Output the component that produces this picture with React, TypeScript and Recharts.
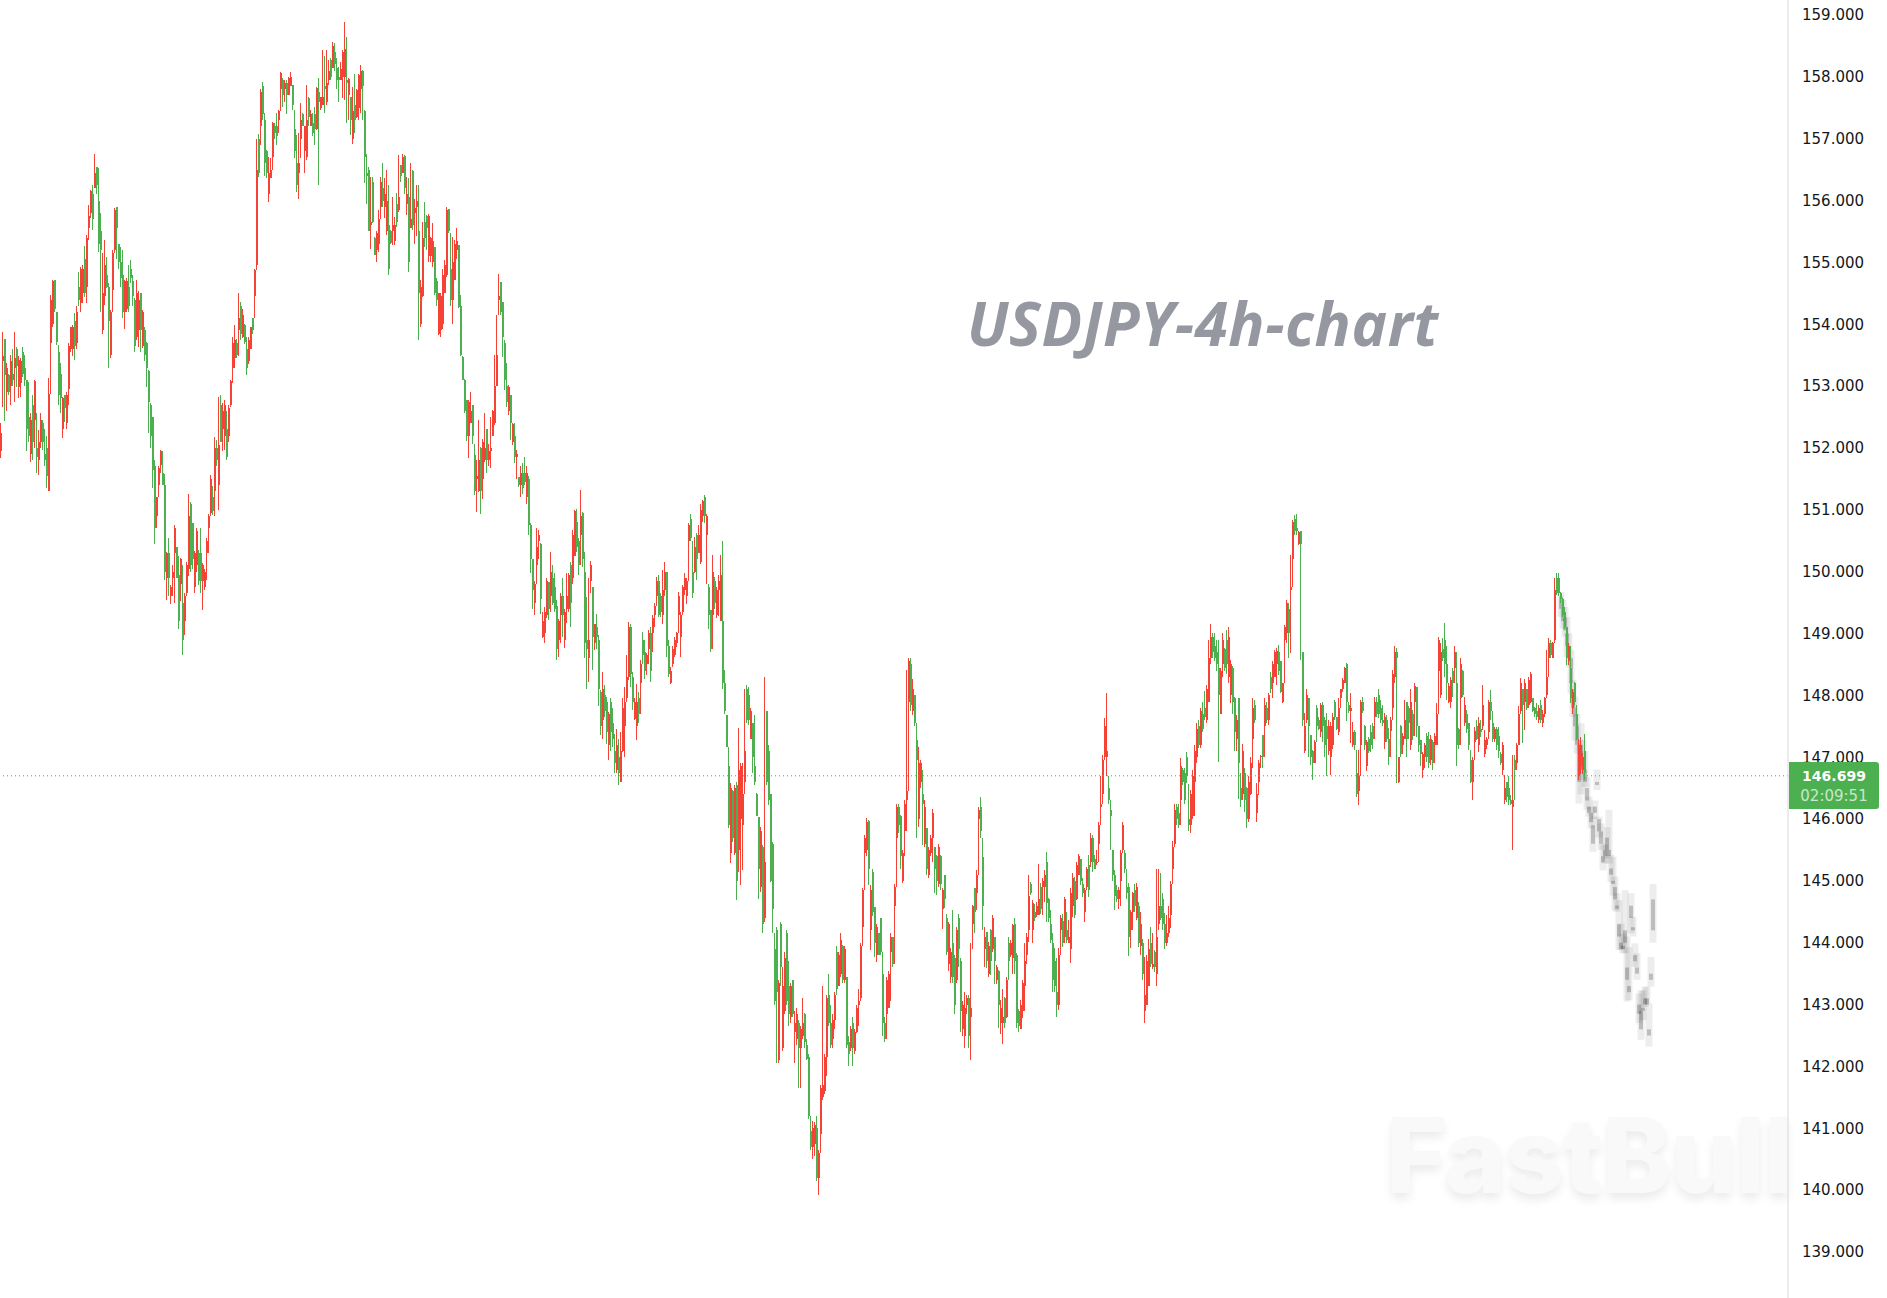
import { Bar, ComposedChart, ReferenceLine, XAxis, YAxis } from "recharts";

// every candle is [open, high, low, close]; close above open is red on this chart
type Candle = [number, number, number, number];

const priceTicks = [139, 140, 141, 142, 143, 144, 145, 146, 147, 148, 149, 150, 151, 152, 153, 154, 155, 156, 157, 158, 159];
const lastPrice = 146.699;
const countdown = "02:09:51";
const chartTitle = "USDJPY-4h-chart";
const watermark = "FastBull";

const legFirstPeak: Candle[] = [
  [151.95,152.4,151.83,152.24],[153.4,153.88,152.67,153.48],[153.76,153.76,152.43,153.18],[152.9,153.37,152.6,153.3],[153.18,153.2,152.85,152.9],[153.0,153.5,152.7,153.4],[153.2,153.6,153.0,153.1],[153.3,153.88,152.75,153.45],[153.6,153.63,152.99,153.32],[152.98,153.48,152.8,153.42],[153.05,153.45,152.83,153.4],
  [153.55,153.64,153.15,153.2],[153.3,153.5,153.0,153.1],[153.1,153.1,151.95,152.3],[152.5,153.07,152.1,152.2],[151.9,152.56,151.78,152.45],[152.7,152.86,151.8,152.1],[152.45,153.1,152.0,153.08],[152.0,152.56,151.59,151.85],[151.8,152.29,151.57,152.1],[152.1,152.56,152.0,152.45],[152.4,152.45,151.97,152.1],
  [151.9,152.3,151.7,151.8],[152.0,152.2,151.35,151.55],[151.3,153.13,151.3,152.88],[153.7,154.48,152.88,154.4],[154.0,154.72,153.96,154.7],[154.72,154.72,154.2,154.25],[154.2,154.2,153.66,153.72],[153.55,153.66,152.7,152.85],[153.2,153.38,152.56,152.8],[152.3,152.82,152.16,152.8],[152.85,152.85,152.42,152.65],[152.4,152.9,152.3,152.85],
  [152.95,153.7,152.7,153.65],[153.6,153.96,153.55,153.95],[153.6,153.98,153.48,153.95],[154.05,154.18,153.42,153.65],[153.7,154.3,153.6,154.2],[154.6,154.85,154.3,154.4],[154.35,154.93,154.2,154.9],[154.5,154.96,154.34,154.9],[155.05,155.26,154.44,154.5],[154.6,155.45,154.34,155.4],[155.55,155.93,155.36,155.75],
  [155.8,156.17,155.72,156.15],[156.1,156.25,155.53,155.7],[156.2,156.76,156.2,156.44],[156.55,156.55,156.1,156.25],[156.0,156.52,155.17,155.3],[155.5,155.8,154.2,155.2],[153.9,155.15,153.85,154.5],[154.45,155.36,154.31,154.95],[154.8,155.09,154.58,154.6],[154.6,154.66,153.3,154.05],
  [153.5,154.23,153.45,154.2],[154.55,155.2,154.2,155.15],[155.2,155.88,155.15,155.85],[155.9,155.9,155.05,155.55],[155.3,155.3,154.9,155.0],[155.0,155.25,154.6,154.75],[154.8,155.2,154.1,154.2],[154.2,154.72,153.93,154.7],[154.25,154.74,154.2,154.7],[154.6,154.96,154.2,154.3],
  [154.9,155.04,154.66,154.75],[154.7,154.8,154.3,154.45],[154.4,154.42,153.55,153.65],[153.8,154.72,153.75,154.5],[153.9,154.53,153.64,154.4],[154.5,154.5,153.55,153.9],[153.65,154.23,153.62,154.2],[153.9,153.95,153.4,153.5],[153.7,153.72,152.99,153.3],[153.25,153.26,152.24,152.75],
  [152.7,152.72,152.0,152.2],[152.5,152.5,151.35,151.65],[151.7,151.8,150.45,150.7],[150.9,151.2,150.7,151.2],[151.4,151.7,151.2,151.68],[151.72,151.97,151.6,151.95],[151.6,151.95,151.4,151.4],[151.4,151.58,149.87,150.0],[149.9,150.32,149.54,150.3],[150.3,150.54,149.6,149.9],
  [149.6,149.78,149.48,149.75],[149.9,150.1,149.6,150.0],[150.3,150.75,149.5,150.7],[150.4,150.4,149.9,149.9],[149.95,150.25,149.08,149.2],[149.8,150.22,149.52,150.2],[149.5,150.1,148.65,148.9],[149.2,149.65,148.98,149.6],[149.65,150.15,149.6,150.1],[150.05,151.25,149.93,150.9],
  [151.1,151.12,150.0,150.1],[150.78,150.78,150.05,150.2],[149.75,150.33,149.65,150.3],[150.1,150.7,150.0,150.65],[150.3,150.35,149.78,149.85],[150.3,150.7,149.65,149.85],[149.85,150.14,149.38,150.1],[149.75,150.05,149.7,150.0],[150.3,150.54,149.87,150.5],[150.7,150.94,150.3,150.9],
  [150.95,151.56,150.9,151.5],[151.2,151.38,150.92,150.98],[151.3,152.18,150.9,152.0],[152.0,152.13,151.7,151.8],[151.4,152.83,151.0,152.05],[152.7,152.85,152.1,152.1],[152.3,152.72,151.95,152.6],[152.2,152.78,151.96,152.7],[152.3,152.6,151.8,151.85],[152.2,152.7,152.1,152.65],
  [152.7,153.1,152.67,153.08],[153.3,153.8,153.05,153.7],[153.45,153.99,153.3,153.75],[153.7,153.76,153.45,153.5],[153.9,154.5,153.48,154.1],[154.3,154.36,153.75,153.85],[153.8,154.25,153.77,154.15],[153.98,154.0,153.68,153.72],[153.6,153.8,153.18,153.3],[153.4,153.8,153.35,153.75],
  [153.6,153.96,153.6,153.95],[154.1,154.1,153.85,153.9],[154.46,154.9,154.1,154.88],[154.96,157.0,154.88,156.5],[157.0,157.08,156.38,156.45],[157.2,157.81,156.9,157.75],[157.85,157.92,157.3,157.4],
];

const legTopRange: Candle[] = [
  [157.3,157.41,156.4,156.6],[156.8,156.82,156.36,156.45],[156.1,156.71,155.98,156.45],[156.36,156.68,156.36,156.5],[156.7,157.27,156.5,157.25],[157.2,157.25,157.0,157.1],[157.2,157.41,156.9,157.05],[157.3,157.46,157.1,157.44],
  [157.8,158.08,157.44,158.07],[157.95,157.98,157.52,157.7],[157.8,157.95,157.6,157.9],[157.9,157.95,157.4,157.7],[157.7,158.0,157.7,157.98],[157.85,158.08,157.85,158.0],[157.87,157.87,157.46,157.55],[157.15,157.46,156.68,156.8],[156.6,157.06,156.14,156.25],[156.45,157.09,156.03,156.6],
  [157.0,157.57,156.68,157.3],[157.4,157.41,157.2,157.2],[156.8,157.2,156.44,157.2],[156.7,157.87,156.65,157.3],[157.65,157.68,157.2,157.35],[157.2,157.46,157.2,157.4],[157.25,157.41,157.05,157.1],[157.4,157.52,156.9,157.15],[157.15,157.84,157.14,157.82],[157.75,157.98,156.25,157.6],
  [157.5,157.68,157.46,157.67],[157.55,158.43,157.55,157.68],[157.85,158.33,157.41,157.8],[157.6,158.43,157.55,157.9],[157.95,158.27,157.87,158.1],[158.28,158.3,157.95,158.0],[158.15,158.57,158.15,158.5],[158.4,158.54,158.1,158.2],[158.15,158.3,157.8,157.95],[158.0,158.16,157.6,157.95],
  [157.95,158.24,157.95,158.12],[158.0,158.43,157.65,158.4],[158.0,158.89,157.63,158.45],[157.95,158.65,157.25,157.9],[157.7,157.98,157.3,157.96],[157.68,157.68,157.06,157.3],[157.0,157.84,156.92,157.45],[157.55,158.05,157.1,157.3],[157.35,157.8,157.33,157.78],[157.5,158.05,157.3,158.03],
  [157.8,158.19,157.41,158.1],[158.1,158.11,157.3,157.85],[157.45,157.46,156.28,156.7],[156.45,156.76,155.95,156.4],[156.5,156.55,155.5,155.5],[155.6,156.38,155.22,155.65],[156.3,156.38,155.63,155.66],[155.4,155.41,155.12,155.12],[155.2,155.5,155.0,155.48],
  [155.3,155.85,155.17,155.7],[155.9,156.38,155.7,156.3],[156.2,156.6,155.9,156.0],[155.9,156.36,155.72,156.1],[155.5,156.49,155.45,156.0],[155.6,156.25,154.8,154.9],[155.5,155.52,155.3,155.32],[155.5,156.06,155.28,155.6],[155.35,155.74,155.28,155.6],
  [155.95,156.12,155.58,155.65],[155.85,156.73,155.82,156.05],[156.57,156.57,156.3,156.4],[156.45,156.76,156.45,156.7],[156.72,156.73,156.1,156.2],[155.95,156.38,155.76,156.1],[156.05,156.36,154.85,155.0],[155.55,156.6,155.55,155.7],[156.48,156.49,155.52,155.6],
  [155.8,156.03,155.3,155.88],[155.9,156.25,155.42,156.0],[155.5,156.25,153.75,154.5],[154.0,154.71,153.96,154.6],[154.45,155.66,154.44,155.4],[155.65,155.98,155.25,155.4],[155.75,155.76,155.2,155.55],[155.1,155.79,155.0,155.75],[155.1,155.41,155.0,155.4],
  [155.0,155.63,154.93,155.35],[155.25,155.25,154.47,154.5],[154.7,154.74,154.3,154.4],[153.85,154.5,153.82,154.5],[153.9,154.5,153.8,154.45],[154.0,154.9,153.93,154.8],[154.5,155.04,154.5,154.95],[154.8,155.9,154.77,155.85],[155.87,155.87,155.47,155.5],
  [154.9,155.47,154.3,154.4],[154.4,155.41,154.01,155.0],[154.72,155.36,154.71,155.3],[155.2,155.55,155.06,155.35],[155.28,155.28,154.26,154.28],[154.3,154.47,153.48,153.5],[153.47,153.48,153.1,153.1],[153.1,153.12,152.56,152.6],[152.78,152.78,152.12,152.2],[152.2,152.78,151.83,152.75],
  [152.4,152.91,152.4,152.6],[152.69,152.69,152.07,152.2],[151.88,152.07,151.24,151.3],[151.5,151.8,150.97,151.55],[151.3,152.45,151.28,151.8],[152.0,152.02,150.94,151.3],[151.5,152.15,151.18,152.1],[151.8,152.56,151.78,152.0],[152.3,152.31,151.59,151.8],[151.8,152.07,151.7,151.95],
  [151.95,152.5,151.67,152.0],[152.2,152.61,152.2,152.6],[152.4,153.5,152.37,153.0],[153.0,154.15,153.0,153.5],[154.4,154.82,154.15,154.45],[154.69,154.69,154.15,154.2],[154.36,154.36,153.47,153.8],[153.7,153.74,152.94,153.1],[153.0,153.37,152.67,152.75],[152.6,153.02,152.53,152.98],
  [152.85,152.85,152.13,152.4],[152.1,152.4,152.05,152.38],[152.2,152.4,151.75,151.85],[151.85,151.96,151.5,151.9],[151.53,151.53,151.37,151.4],
];

const legAutumnSlide: Candle[] = [
  [151.4,151.7,151.2,151.6],[151.6,151.75,151.25,151.35],[151.6,151.85,151.4,151.45],[151.2,151.7,151.1,151.6],[151.5,151.55,150.6,150.75],[150.75,150.78,149.98,150.2],[150.2,150.2,149.4,149.7],[149.5,149.85,149.3,149.8],[150.1,150.7,149.8,150.4],
  [150.5,150.67,150.2,150.6],[150.45,150.46,149.32,149.55],[148.95,149.35,148.92,149.2],[149.0,149.43,148.84,149.35],[149.3,149.89,149.25,149.85],[149.84,149.84,149.22,149.4],[149.6,150.32,149.35,150.0],[149.9,150.1,149.46,149.5],[149.75,149.97,149.35,149.4],
  [149.45,149.54,148.57,148.75],[148.9,149.24,148.62,149.2],[149.3,149.65,148.84,149.6],[149.6,149.89,148.95,149.3],[148.9,149.4,148.76,149.35],[149.4,149.97,149.17,149.6],[149.4,149.97,149.35,149.95],[150.1,150.16,149.1,149.5],[149.9,150.67,149.8,150.6],[150.25,150.99,150.25,150.98],
  [150.8,151.02,150.32,150.4],[150.5,150.54,149.95,150.1],[150.6,151.32,150.1,150.9],[150.95,150.97,150.08,150.2],[150.0,150.32,148.6,148.85],[148.9,149.59,148.1,148.75],[148.6,149.89,148.22,148.9],[149.85,150.18,149.65,150.1],[149.75,149.75,148.41,148.95],[148.85,149.16,148.73,149.15],
  [149.1,149.32,148.75,148.95],[148.9,148.98,147.82,148.1],[148.05,148.08,147.36,147.5],[147.6,148.38,147.3,148.1],[148.0,148.16,147.65,147.75],[147.9,147.98,147.22,147.4],[147.2,147.73,146.95,147.7],[147.9,147.95,147.1,147.4],[147.55,147.8,147.17,147.3],[147.1,147.38,146.74,146.9],
  [146.8,147.46,146.74,147.2],[147.0,147.3,146.55,146.75],[146.6,147.4,146.6,147.1],[147.1,147.95,147.08,147.8],[147.5,148.14,147.0,147.9],[147.95,148.65,147.9,148.3],[148.3,149.19,148.25,149.1],[149.1,149.16,148.14,148.35],[148.3,148.38,147.76,147.9],
  [147.62,147.95,147.6,147.9],[147.5,148.19,147.28,147.9],[147.95,148.06,147.55,147.7],[148.2,148.57,147.7,148.5],[148.9,149.03,148.5,148.65],[148.7,148.9,148.27,148.4],[148.5,148.68,148.33,148.65],[148.75,149.05,148.5,149.0],[149.0,149.1,148.22,148.4],
  [149.0,149.3,148.7,149.25],[149.3,149.49,149.1,149.45],[149.6,149.92,149.45,149.85],[149.85,149.94,149.27,149.3],[149.6,149.65,149.27,149.35],[149.3,150.02,149.16,149.7],[149.7,150.16,149.6,150.0],[150.0,150.0,148.62,148.8],[148.8,148.9,148.3,148.35],[148.2,148.46,148.19,148.4],
  [148.5,148.79,148.46,148.75],[148.65,148.95,148.62,148.9],[148.85,149.03,148.78,149.0],[149.3,149.67,149.0,149.6],[148.95,149.35,148.62,149.3],[149.35,149.78,149.3,149.75],[149.7,149.97,149.62,149.9],[149.6,149.89,149.48,149.85],[150.5,150.78,149.85,150.75],[150.85,150.94,150.5,150.55],
  [150.0,150.5,149.57,149.65],[150.0,150.56,149.97,150.4],[150.6,150.62,149.86,150.2],[150.3,150.75,150.3,150.6],[150.15,151.1,150.13,151.0],[150.9,151.16,150.8,151.15],[151.2,151.24,150.78,150.9],[150.6,150.94,149.8,150.9],[149.75,149.8,149.08,149.3],[149.38,149.38,148.7,148.75],
  [149.3,150.27,148.75,150.0],[149.85,149.92,149.4,149.5],[149.3,149.75,149.25,149.7],[149.7,149.94,149.28,149.85],[149.2,150.27,149.2,149.95],
];

const legYearLow: Candle[] = [
  [149.2,150.49,148.1,148.2],[148.2,148.41,147.7,147.75],[147.68,147.68,147.17,147.17],[146.85,147.17,145.85,145.9],[145.45,146.58,145.29,146.5],[146.45,146.47,145.63,145.7],[145.45,146.55,145.42,146.5],[146.55,146.6,144.69,145.0],[145.5,147.47,145.15,146.8],[146.0,146.9,144.93,146.85],
  [145.9,146.9,145.18,146.4],[146.6,148.11,146.4,147.1],[148.1,148.17,147.55,147.6],[148.0,148.14,147.52,147.6],[147.3,147.8,147.3,147.75],[147.55,147.55,146.74,147.0],[146.85,147.68,146.55,146.6],[146.4,146.42,146.05,146.05],[146.03,146.03,144.7,145.2],[144.9,145.87,144.82,145.8],
  [145.55,145.58,144.15,144.3],[144.4,148.3,144.34,145.3],[147.74,147.74,146.55,146.6],[147.1,147.2,146.22,146.3],[146.4,146.4,144.98,145.0],[145.6,145.63,144.15,144.55],[143.9,144.15,143.0,143.05],[144.2,144.26,142.05,143.2],[142.1,143.4,142.05,143.35],[144.3,144.34,143.3,143.6],
  [142.3,143.6,142.25,143.3],[142.9,143.85,142.85,143.75],[144.15,144.2,143.0,143.05],[143.3,143.7,142.65,142.85],[142.8,143.35,142.7,143.3],[143.4,143.4,142.8,142.85],[142.55,142.9,142.05,142.7],
  [142.45,142.95,142.35,142.85],[142.7,142.75,141.65,142.3],[142.3,142.65,141.65,142.6],[142.5,143.1,142.45,142.7],[142.85,142.87,142.3,142.4],[142.35,142.45,142.1,142.12],[142.15,142.2,141.15,141.2],
  [140.95,141.2,140.65,140.7],[140.7,141.12,140.5,141.0],[140.75,141.1,140.55,141.05],[141.0,141.2,140.15,140.2],[140.2,140.65,139.92,140.6],[140.9,141.7,140.6,141.65],[141.5,143.3,141.45,141.7],[141.6,142.2,141.55,142.15],[142.15,143.15,141.85,143.1],
  [143.15,143.5,142.65,142.7],[142.7,143.0,142.3,142.35],[142.45,142.85,142.3,142.75],[142.75,143.2,142.6,143.15],[143.85,143.95,143.15,143.25],[143.3,143.85,143.3,143.8],[143.5,144.15,143.45,144.05],[143.95,143.97,143.35,143.4],[143.4,143.95,143.35,143.9],
  [143.45,143.45,142.3,142.35],[142.4,142.5,142.0,142.2],[142.3,142.65,142.25,142.6],[142.7,142.8,142.0,142.3],[142.25,142.6,142.2,142.55],[142.55,143.0,142.54,142.95],[143.0,143.25,142.65,143.05],[143.1,144.0,143.05,143.95],
  [144.25,144.88,143.95,144.85],[145.45,145.74,144.85,145.7],[145.5,146.01,145.4,145.95],[145.97,145.98,144.93,145.2],[144.2,144.93,143.88,144.85],[145.15,145.2,144.43,144.5],[144.58,144.58,143.77,144.0],[143.8,144.31,143.69,144.25],[144.15,144.15,143.8,143.8],[144.4,144.4,143.8,143.85],
  [143.5,143.85,142.5,142.7],[142.7,142.8,142.4,142.45],[142.85,143.45,142.45,143.4],[142.95,143.55,142.95,143.5],[143.85,144.15,143.05,144.1],[144.1,144.1,143.6,143.65],[144.6,144.95,143.65,144.9],[145.7,146.25,144.9,146.2],[146.2,146.25,145.78,145.9],
  [146.05,146.06,145.2,145.4],[145.0,145.5,144.96,145.45],[145.8,146.3,145.4,146.25],[146.3,148.41,145.8,146.45],[147.9,148.6,146.45,148.55],[148.5,148.6,147.75,147.85],[147.75,148.27,147.68,148.1],[148.0,148.0,147.5,147.55],[147.28,147.55,145.7,146.95],
  [146.0,147.17,145.87,146.9],[146.6,146.95,146.5,146.9],[146.4,146.8,145.58,146.25],[145.6,146.3,145.55,146.2],[145.85,145.85,145.1,145.2],[145.1,145.55,145.05,145.5],[145.45,145.75,145.4,145.7],[145.7,146.17,145.3,146.1],[145.55,145.55,144.8,145.2],[145.4,145.42,144.77,145.0],
  [144.95,145.6,144.9,145.55],[145.4,145.42,144.85,144.95],[144.55,144.88,144.23,144.85],[145.09,145.09,144.56,144.7],[144.4,144.47,143.8,143.85],[143.65,144.34,143.55,144.3],[143.45,143.91,143.35,143.85],[144.0,144.53,143.35,143.45],[143.75,143.8,142.85,143.0],[143.4,144.26,143.35,144.2],
  [144.4,144.47,143.6,143.9],[143.7,143.75,142.55,142.9],[142.6,143.05,142.5,143.0],[142.5,143.2,142.3,142.95],[143.0,143.15,142.85,143.1],[143.1,143.15,142.3,142.5],[142.8,144.0,142.1,142.95],[144.3,144.61,143.9,144.6],[144.88,144.88,144.15,144.5],[144.8,145.17,144.53,145.1],
  [146.0,146.2,145.1,146.15],[146.2,146.36,145.69,145.8],[145.39,145.69,144.2,144.6],
];

const legSpringRally: Candle[] = [
  [143.9,144.26,143.61,144.1],[144.18,144.18,143.59,143.7],[143.5,144.02,143.45,143.95],[144.2,144.23,143.48,143.7],[143.9,144.45,143.85,144.4],[144.1,144.1,143.34,143.7],[143.4,143.64,143.34,143.6],[143.55,143.56,142.62,143.0],[142.7,143.07,142.53,142.95],[142.7,143.26,142.37,142.8],
  [143.1,143.13,142.62,142.7],[142.8,143.45,142.78,143.4],[144.0,144.1,143.4,143.7],[143.8,144.04,143.77,144.0],[143.75,144.31,143.5,144.28],[144.3,144.4,143.5,143.7],[143.8,143.83,142.62,142.7],[142.9,142.93,142.56,142.65],[142.6,143.07,142.6,143.0],[142.9,143.4,142.78,143.35],
  [143.3,143.99,142.9,143.7],[143.8,144.15,143.65,144.1],[144.2,145.1,144.02,144.75],[144.95,144.99,144.77,144.8],[144.2,144.69,143.99,144.65],[144.5,144.63,144.35,144.4],[144.45,144.66,144.42,144.6],[144.45,145.28,144.45,144.7],[144.9,144.96,144.47,144.55],
  [144.9,145.04,144.45,145.0],[144.9,145.17,144.66,145.1],[145.3,145.47,144.34,144.65],[144.7,144.72,144.34,144.4],[144.3,144.53,143.99,144.05],[144.0,144.15,143.21,143.4],[143.7,143.91,143.21,143.3],[143.2,143.75,142.8,143.0],[143.0,143.91,142.91,143.8],
  [144.2,144.45,143.8,144.4],[144.35,144.47,143.93,144.0],[144.1,144.74,143.99,144.7],[144.2,144.5,143.99,144.05],[144.0,144.37,143.99,144.1],[143.9,144.88,143.67,144.8],[144.6,145.12,144.42,145.05],[145.0,145.07,144.4,144.45],[144.7,145.31,144.69,145.25],[145.1,145.44,145.17,145.4],
  [145.35,145.36,144.93,145.0],[144.95,145.04,144.74,144.8],[144.5,144.88,144.34,144.85],[144.9,145.23,144.85,145.2],[145.25,145.42,144.74,144.85],[145.3,145.77,145.23,145.7],[145.7,145.74,145.15,145.3],[145.35,145.42,145.2,145.2],[145.3,145.5,145.26,145.3],[145.6,145.96,145.3,145.9],
  [146.2,146.69,145.9,146.25],[146.4,147.04,146.25,146.95],[147.0,147.63,146.95,147.5],[147.0,148.03,146.7,147.1],[146.5,146.7,146.25,146.3],[146.15,146.3,145.5,146.05],[145.5,145.5,145.0,145.1],[145.1,145.18,144.53,144.75],[144.85,144.93,144.66,144.7],[144.7,144.9,144.55,144.85],
  [145.0,145.5,144.6,145.45],[145.5,145.96,145.45,145.9],[145.45,145.5,145.12,145.2],[144.9,145.2,144.7,144.8],[144.9,144.96,143.78,144.1],[144.2,144.53,143.91,144.5],[144.5,144.82,144.2,144.8],[144.85,144.95,144.5,144.6],[144.4,144.96,144.36,144.9],[144.6,144.66,143.93,144.0],
  [143.95,144.5,143.8,144.3],[144.0,144.06,143.4,143.5],[142.9,143.77,142.7,143.15],[143.0,143.8,142.99,143.7],[143.3,144.06,143.3,143.9],[144.0,144.26,143.6,143.65],[143.6,144.15,143.58,143.65],[143.85,143.88,143.52,143.6],[143.5,145.2,143.3,144.1],[144.3,145.2,144.2,144.6],
  [144.6,145.12,144.36,144.4],[144.7,144.8,144.2,144.3],[144.3,144.48,143.9,144.0],[144.0,144.45,143.95,144.15],[144.15,144.6,144.1,144.4],[144.45,145.0,144.24,144.95],[145.2,145.64,144.95,145.55],[145.6,146.25,145.55,146.15],[146.2,146.25,145.9,146.0],[146.1,146.25,145.85,145.9],
  [146.3,146.98,145.9,146.85],[146.8,146.82,146.55,146.6],[146.75,146.82,146.25,146.3],[147.0,147.09,146.58,146.7],[146.0,146.56,145.8,145.9],[145.9,146.47,145.78,146.4],[146.05,146.8,146.0,146.7],[146.6,147.2,146.05,147.1],[147.0,147.55,146.9,147.45],[147.5,147.6,147.15,147.2],
  [147.2,147.8,147.15,147.75],[147.7,147.9,147.4,147.45],[147.8,148.07,147.6,147.65],[147.6,148.17,147.55,148.1],[147.9,148.9,147.9,148.6],[148.6,149.16,148.5,148.95],[148.95,149.0,148.6,148.7],[148.8,149.0,148.55,148.6],[148.7,148.9,148.4,148.5],[148.45,148.9,146.93,148.0],
  [147.7,148.44,147.7,148.4],[148.5,149.0,148.3,148.9],[148.75,148.76,148.4,148.45],[148.9,149.05,148.35,148.5],[148.3,149.1,148.2,148.95],[148.0,148.57,147.87,148.5],[148.45,148.47,147.7,147.9],[147.95,147.98,147.1,147.4],[147.3,147.68,147.1,147.6],[147.95,147.95,146.33,146.9],
  [146.5,146.74,146.2,146.3],[146.4,147.22,146.3,147.1],[146.75,146.82,146.12,146.3],[146.5,146.52,145.85,146.0],[146.0,146.7,145.95,146.6],[146.4,147.01,146.39,146.9],[147.3,147.95,146.82,147.8],[147.85,147.92,147.55,147.6],
];

const legSummerChop: Candle[] = [
  [146.1,146.58,145.96,146.4],[146.6,146.96,146.39,146.9],[147.0,147.04,146.82,147.02],[147.36,147.36,146.82,147.0],[147.5,147.95,147.0,147.85],[147.8,147.9,147.55,147.6],[147.6,148.03,147.52,148.0],[148.3,148.38,148.03,148.1],[148.2,148.55,147.95,148.5],[148.3,148.73,148.3,148.7],
  [148.5,148.76,148.17,148.72],[148.7,148.81,148.33,148.4],[148.55,148.55,148.03,148.05],[147.9,148.2,147.87,148.2],[148.9,149.14,148.2,149.1],[149.0,149.54,148.84,149.5],[149.4,149.49,148.6,149.0],[149.7,150.27,148.68,149.75],[150.2,150.84,149.75,150.8],[150.85,150.92,150.6,150.65],
  [150.7,150.94,150.6,150.65],[150.45,150.65,150.43,150.64],[150.65,150.65,148.57,150.45],[148.7,148.7,147.5,147.6],[147.1,147.71,147.06,147.5],[147.6,148.11,147.55,148.0],[147.95,147.95,147.0,147.5],[147.36,147.36,146.88,147.0],[147.1,147.12,146.63,146.9],[146.9,147.28,146.9,147.25],
  [147.8,147.84,147.25,147.5],[147.6,147.65,147.44,147.45],[147.4,147.87,147.33,147.85],[147.85,147.9,147.25,147.5],[147.6,147.65,147.01,147.2],[147.5,147.71,146.69,147.3],[147.1,147.6,147.03,147.5],[147.0,147.57,146.71,147.5],[147.2,147.71,147.14,147.65],[147.9,147.93,147.6,147.65],
  [147.65,147.65,147.44,147.45],[147.4,147.95,147.36,147.8],[147.95,148.11,147.8,148.1],[148.1,148.28,148.06,148.25],[148.2,148.46,148.2,148.45],[148.5,148.52,147.58,147.9],[147.85,147.9,147.71,147.75],[147.75,148.03,147.23,147.8],[147.2,147.57,147.17,147.4],
  [147.4,147.44,147.12,147.2],[146.75,147.12,146.36,146.4],[146.45,147.12,146.23,146.7],[147.2,147.93,146.7,147.9],[147.9,147.98,147.71,147.75],[147.5,147.52,147.12,147.2],[146.85,147.28,146.77,147.25],[147.3,147.33,147.06,147.1],[147.4,147.52,147.09,147.2],[147.5,147.55,147.14,147.3],
  [147.65,147.98,147.3,147.9],[147.9,147.98,147.65,147.7],[148.0,148.11,147.63,147.7],[147.8,147.93,147.55,147.6],[147.6,147.84,147.5,147.55],[147.25,147.71,147.14,147.65],[147.6,147.68,147.25,147.3],[147.3,147.47,146.88,147.0],[147.42,147.65,147.0,147.6],
  [147.8,148.41,147.6,148.35],[148.3,148.79,148.2,148.7],[148.7,148.76,146.58,148.6],[146.6,147.0,146.58,147.0],[147.5,147.52,147.0,147.05],[147.2,147.39,147.05,147.35],[147.3,147.93,147.3,147.6],[147.9,147.9,147.01,147.3],[147.8,147.82,147.3,147.55],
  [147.2,148.11,147.12,147.9],[147.7,147.76,147.28,147.35],[147.9,148.2,147.35,148.15],[148.14,148.14,147.33,147.5],[147.5,147.5,147.09,147.2],[147.28,147.28,146.85,147.05],[146.8,147.09,146.66,147.05],[147.0,147.23,146.82,147.2],[147.35,147.39,146.93,147.0],
  [147.3,147.41,146.82,146.9],[146.95,147.36,146.88,147.3],[147.25,147.28,146.79,146.9],[147.2,147.39,146.9,147.35],[147.2,147.87,147.2,147.7],[148.4,148.95,147.7,148.9],[148.0,148.84,147.95,148.7],[148.75,148.92,148.55,148.6],[148.9,149.17,148.3,148.5],[148.5,148.79,147.93,148.2],
  [147.9,148.2,147.87,148.15],[147.9,148.3,147.79,148.25],[148.4,148.44,147.98,148.2],[148.45,148.79,148.2,148.7],[148.2,148.7,146.85,147.2],[147.45,147.47,147.14,147.2],[147.95,148.6,147.2,148.5],[148.4,148.41,147.98,148.0],[147.55,147.98,147.5,147.85],
  [147.7,147.76,147.39,147.45],[147.55,147.55,147.12,147.2],[146.95,147.12,146.58,146.6],[146.6,147.01,146.31,146.95],[147.25,147.49,146.95,147.42],[147.5,147.6,147.28,147.3],[147.2,147.65,147.09,147.55],[147.45,147.6,147.33,147.4],[147.5,148.17,147.44,147.85],
  [147.05,147.44,147.0,147.28],[147.2,147.33,147.14,147.3],[147.4,147.93,147.3,147.9],[147.9,148.09,147.6,147.75],[147.55,147.75,147.25,147.3],[147.3,147.49,147.25,147.45],[147.45,147.49,147.12,147.2],[147.35,147.49,146.98,147.1],[147.05,147.09,146.88,146.9],
  [146.8,147.25,146.71,147.2],[146.3,146.71,146.25,146.5],[146.6,146.6,146.28,146.35],[146.5,146.69,146.23,146.3],[146.3,146.39,146.23,146.25],[146.2,147.04,145.5,146.3],[146.95,147.04,146.3,146.8],[146.9,147.23,146.8,147.2],[147.2,147.82,147.2,147.7],[147.75,148.28,147.7,148.2],
  [148.1,148.11,147.23,147.85],
];

const legLatestSwing: Candle[] = [
  [147.9,148.27,147.44,148.2],[148.1,148.11,147.76,147.8],[147.85,148.3,147.8,148.25],[147.9,148.38,147.87,148.35],[147.95,147.95,147.73,147.75],[147.8,147.81,147.65,147.7],[147.75,147.87,147.6,147.65],[147.6,147.84,147.55,147.8],[147.85,147.92,147.55,147.6],[147.55,147.76,147.49,147.7],
  [147.7,147.98,147.65,147.95],[148.0,148.73,147.95,148.3],[148.6,148.92,148.3,148.85],[148.85,148.89,148.6,148.65],[148.6,148.87,148.6,148.85],[148.9,149.89,148.85,149.7],[149.9,149.97,149.62,149.65],[149.9,149.97,149.6,149.65],[149.65,149.67,149.5,149.55],
  [149.55,149.57,149.27,149.3],[149.35,149.43,149.08,149.1],[149.1,149.11,148.49,148.6],[148.55,148.84,148.49,148.8],[148.45,148.8,147.87,147.95],[147.8,148.11,147.7,148.05],[148.2,148.22,147.84,147.9],[147.7,147.84,147.27,147.3],
  [146.7,147.3,146.63,147.2],[147.0,147.33,146.73,147.2],[146.8,147.06,146.73,147.0],[147.1,147.38,146.63,146.75],
];

// the projected path, drawn in translucent grey over the end of the real candles
const projectedPath: Candle[] = [
  [149.6,149.67,149.27,149.4],[149.4,149.54,149.08,149.2],[149.25,149.43,148.95,149.05],[149.0,149.27,148.62,148.8],[148.8,149.0,148.46,148.6],[148.6,148.73,148.03,148.2],[148.1,148.25,147.65,147.8],[147.8,147.98,147.27,147.5],[147.5,147.7,147.06,147.2],[147.2,147.28,146.25,146.6],
  [147.2,147.55,146.4,146.8],[147.0,147.28,146.63,146.85],[146.8,147.1,146.52,146.6],[146.5,146.68,146.15,146.3],[146.2,146.36,146.04,146.1],[146.1,146.2,145.85,145.95],[145.9,146.04,145.47,145.6],[146.1,146.3,146.0,146.2],[146.6,146.8,146.47,146.55],[146.0,146.04,145.7,145.8],
  [145.8,145.93,145.5,145.6],[145.4,145.6,145.17,145.3],[145.5,145.58,145.28,145.4],[145.7,145.87,145.36,145.5],[145.5,146.15,145.28,145.4],[145.1,145.42,144.98,145.2],[144.95,145.39,144.76,145.0],[144.9,145.07,144.52,144.7],[144.6,144.8,144.5,144.55],[144.3,144.69,143.88,144.1],
  [143.9,144.31,143.88,144.0],[143.9,144.15,143.83,143.95],[144.0,144.85,143.83,144.2],[143.6,144.1,143.05,143.4],[143.2,143.93,143.07,143.3],[144.6,144.8,144.15,144.4],[144.2,144.42,144.1,144.25],[143.8,143.99,143.61,143.7],[143.5,143.83,143.4,143.6],[143.0,143.18,142.7,142.85],
  [142.9,143.23,142.43,142.6],[142.9,143.23,142.75,142.95],[143.0,143.29,142.96,143.1],[143.0,143.29,143.02,143.1],[142.6,143.02,142.32,142.5],[143.5,143.77,143.29,143.4],[144.2,144.95,144.0,144.7],
];

const realCandles = [...legFirstPeak, ...legTopRange, ...legAutumnSlide, ...legYearLow, ...legSpringRally, ...legSummerChop, ...legLatestSwing];

const slotCount = 894;
const projectedStart = 780;

const rows = Array.from({ length: slotCount }, (_, i) => {
  const real = realCandles[i];
  const ghost = projectedPath[i - projectedStart];
  return {
    slot: i,
    candle: real,
    ghost,
    range: real ? [real[2], real[1]] : null,
    ghostRange: ghost ? [ghost[2], ghost[1]] : null,
  };
});

// turns the low-high bar the library lays out into a wick plus an open-close body
function bodyBox(c: Candle, y: number, height: number) {
  const [open, high, low, close] = c;
  const perPrice = high > low ? height / (high - low) : 0;
  const top = y + (high - Math.max(open, close)) * perPrice;
  const bottom = y + (high - Math.min(open, close)) * perPrice;
  return { top, h: Math.max(bottom - top, 1) };
}

function CandleMark(props: any) {
  const { x, y, width, height, payload } = props;
  const c: Candle | undefined = payload?.candle;
  if (!c) return <g />;
  const color = c[3] >= c[0] ? "#f44336" : "#4caf50";
  const left = Math.round(x);
  const { top, h } = bodyBox(c, y, height);
  return (
    <g shapeRendering="crispEdges">
      <rect x={left} y={y} width={1} height={height} fill={color} />
      <rect x={left} y={top} width={Math.min(width, 2)} height={h} fill={color} />
    </g>
  );
}

function GhostMark(props: any) {
  const { x, y, width, height, payload } = props;
  const c: Candle | undefined = payload?.ghost;
  if (!c) return <g />;
  const mid = x + width / 2;
  const { top, h } = bodyBox(c, y, height);
  return (
    <g>
      <rect x={mid - 3.5} y={y} width={7} height={height} fill="#000" fillOpacity={0.07} />
      <rect x={mid - 2} y={top} width={4} height={h} fill="#000" fillOpacity={0.2} />
    </g>
  );
}

export default function App() {
  return (
    <div style={{ position: "absolute", left: 0, top: 0, width: 1887, height: 1298, background: "#fff", overflow: "hidden" }}>
      <div
        style={{
          position: "absolute",
          left: 1386,
          top: 1095,
          fontFamily: "Inter",
          fontWeight: 800,
          fontSize: 104,
          lineHeight: "120px",
          letterSpacing: -1,
          color: "#f9f9f9",
          textShadow: "0 6px 10px rgba(0,0,0,0.08)",
        }}
      >
        {watermark}
      </div>
      <ComposedChart
        width={1887}
        height={1298}
        data={rows}
        barCategoryGap={0}
        margin={{ top: 0, right: 0, bottom: 0, left: 0 }}
        style={{ position: "absolute", left: 0, top: 0 }}
      >
        <XAxis xAxisId="real" dataKey="slot" hide />
        <XAxis xAxisId="projected" dataKey="slot" hide />
        <YAxis
          orientation="right"
          width={99}
          domain={[138.256, 159.2425]}
          ticks={priceTicks}
          interval={0}
          allowDataOverflow
          tickLine={false}
          tickMargin={8}
          axisLine={{ stroke: "#d9d9d9" }}
          tick={{ fontSize: 15, fill: "#131722", fontFamily: "DejaVu Sans" }}
          tickFormatter={(v: number) => v.toFixed(3)}
        />
        <ReferenceLine xAxisId="real" y={lastPrice} stroke="#4caf50" strokeDasharray="1 3" />
        <Bar xAxisId="projected" dataKey="ghostRange" isAnimationActive={false} shape={<GhostMark />} style={{ filter: "blur(1px)" }} />
        <Bar xAxisId="real" dataKey="range" isAnimationActive={false} shape={<CandleMark />} />
      </ComposedChart>
      <div
        style={{
          position: "absolute",
          left: 967,
          top: 283,
          fontFamily: "Open Sans",
          fontStyle: "italic",
          fontWeight: 700,
          fontSize: 60,
          lineHeight: "80px",
          letterSpacing: 0.6,
          color: "#9598a1",
          whiteSpace: "nowrap",
        }}
      >
        {chartTitle}
      </div>
      <div
        style={{
          position: "absolute",
          left: 1789,
          top: 762,
          width: 90,
          height: 47,
          background: "#4caf50",
          borderRadius: "0 3px 3px 0",
          fontFamily: "DejaVu Sans",
          fontSize: 15,
          textAlign: "center",
          color: "#fff",
        }}
      >
        <div style={{ lineHeight: "20px", marginTop: 0, paddingTop: 4, fontWeight: 700, fontSize: 14 }}>{lastPrice.toFixed(3)}</div>
        <div style={{ lineHeight: "20px", opacity: 0.7 }}>{countdown}</div>
      </div>
    </div>
  );
}
